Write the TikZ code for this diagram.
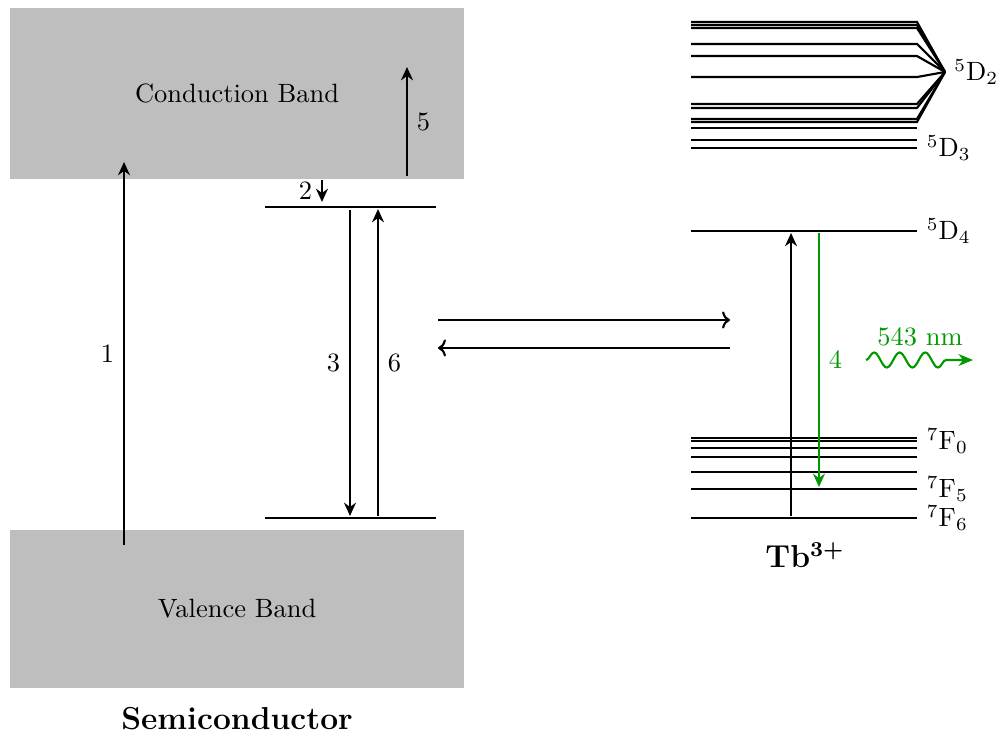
\documentclass[tikz,border=0pt]{standalone}
\usetikzlibrary{
  arrows.meta,
  decorations.pathmorphing,
  positioning
}
\definecolor{bandGray}{HTML}{BEBEBE}
\definecolor{emitGreen}{HTML}{009900}
\tikzset{
  band/.style={
    fill=bandGray,
    draw=none,
    inner sep=0pt
  },
  title/.style={font=\large\bfseries},
  level/.style={thick, draw=black},
  trans/.style={
    -{Stealth[length=5pt,width=4.5pt]},
    thick,
    draw=black
  },
  emit/.style={
    trans,
    draw=emitGreen
  },
  transfer/.style={
    -{To[length=3pt,width=6.5pt]},
    thick
  },
  photon/.style={
    -{Stealth[length=5.5pt,width=4.5pt]},
    thick,
    draw=emitGreen,
    decorate,
    decoration={snake, amplitude=1mm, segment length=3.4mm, post length=2mm}
  },
  term/.style={anchor=west}
}

\begin{document}
\begin{tikzpicture}
  \useasboundingbox (0,0) rectangle (13.254,9.721);

  % semiconductor host
  \node[band, minimum width=6.03cm, minimum height=2.275cm] (cb) at (3.148,8.481) {Conduction Band};
  \node[band, minimum width=6.03cm, minimum height=2.1cm] (vb) at (3.148,1.634) {Valence Band};
  \node[title, below=0.12cm of vb] (semi) {Semiconductor};

  \coordinate (trapL) at (3.519,6.972);
  \coordinate (trapR) at (5.786,6.972);
  \coordinate (baseL) at (3.519,2.842);
  \coordinate (baseR) at (5.786,2.842);
  \draw[level] (trapL) -- (trapR);
  \draw[level] (baseL) -- (baseR);

  \coordinate (a1s) at (1.647,2.483);
  \coordinate (a1e) at (1.647,7.570);
  \coordinate (a2s) at (4.276,7.331);
  \coordinate (a2e) at (4.276,7.039);
  \coordinate (a3s) at (4.648,6.932);
  \coordinate (a3e) at (4.648,2.869);
  \coordinate (a5s) at (5.405,7.384);
  \coordinate (a5e) at (5.405,8.831);
  \coordinate (a6s) at (5.020,2.869);
  \coordinate (a6e) at (5.020,6.945);

  \draw[trans] (a1s) -- node[left] {1} (a1e);
  \draw[trans] (a2s) -- node[left] {2} (a2e);
  \draw[trans] (a3s) -- node[left] {3} (a3e);
  \draw[trans] (a5s) -- node[right] {5} (a5e);
  \draw[trans] (a6s) -- node[right] {6} (a6e);

  % energy transfer
  \coordinate (hostR) at (5.817,5.471);
  \coordinate (ionL) at (9.695,5.471);
  \coordinate (hostB) at (5.817,5.100);
  \coordinate (ionB) at (9.695,5.100);
  \draw[transfer] (hostR) -- (ionL);
  \draw[transfer] (ionB) -- (hostB);

  % Tb3+ levels
  \coordinate (d2) at (12.550,8.765);
  \node[term] (d2lab) at (d2) {$^5$D$_2$};
  \foreach \y in {9.429,9.389,9.349,9.137,8.977,8.698,8.340,8.287,8.141,8.101}
    \draw[level] (9.177,\y) -- (12.178,\y) -- (d2);

  \foreach \y/\lab in {8.021/{}, 7.862/{}, 7.756/{$^5$D$_3$}, 6.653/{$^5$D$_4$},
                       3.904/{}, 3.865/{$^7$F$_0$}, 3.772/{}, 3.652/{}, 3.453/{},
                       3.227/{$^7$F$_5$}, 2.842/{$^7$F$_6$}}
    \draw[level] (9.177,\y) -- (12.178,\y) node[term] {\lab};

  \node[title] (tb) at (10.691,2.351) {Tb\textsuperscript{3+}};

  \coordinate (exs) at (10.505,2.869);
  \coordinate (exe) at (10.505,6.627);
  \coordinate (ems) at (10.876,6.627);
  \coordinate (eme) at (10.876,3.254);
  \draw[trans] (exs) -- (exe);
  \draw[emit] (ems) -- node[right, text=emitGreen] {4} (eme);

  \coordinate (phs) at (11.501,4.940);
  \coordinate (phe) at (12.922,4.940);
  \draw[photon] (phs) -- (phe);
  \node[text=emitGreen] (wl) at (12.218,5.246) {543 nm};
\end{tikzpicture}
\end{document}
